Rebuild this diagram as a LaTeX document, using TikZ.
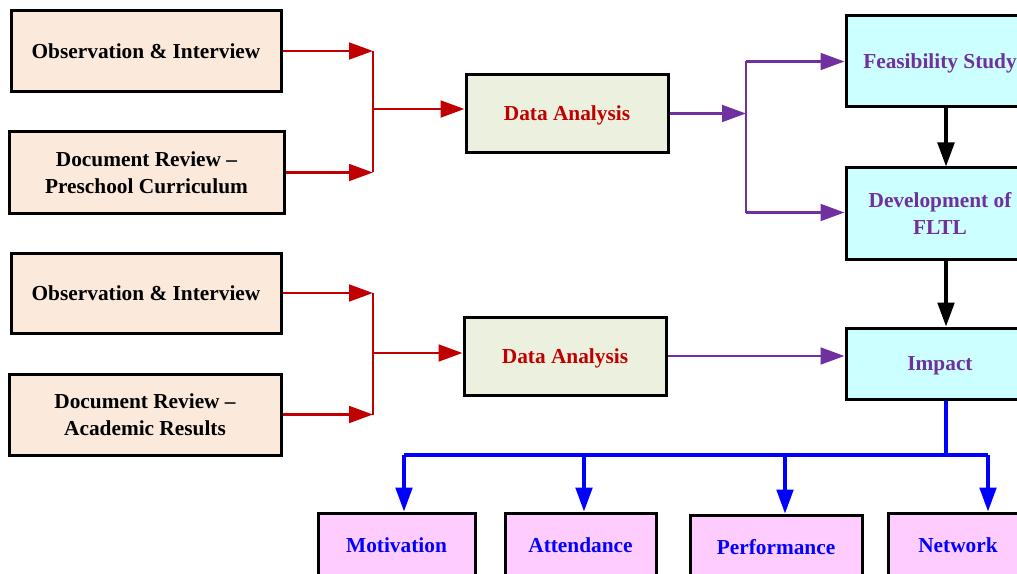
\documentclass[tikz,border=0pt]{standalone}
\usepackage{fontspec}
\setmainfont{Liberation Serif}
\usetikzlibrary{arrows.meta,positioning}
\definecolor{peach}{HTML}{FBE9DB}
\definecolor{sage}{HTML}{EBF1DE}
\definecolor{aqua}{HTML}{CCFFFF}
\definecolor{pinkbox}{HTML}{FFCCFF}
\definecolor{darkred}{HTML}{C00000}
\definecolor{fltpurple}{HTML}{7030A0}
\definecolor{outblue}{HTML}{0000FF}
\tikzset{
  box/.style={draw=black, line width=2.25pt, align=center, inner sep=2pt,
    font=\bfseries\fontsize{16}{20}\selectfont},
  srcbox/.style={box, fill=peach, minimum height=60.75pt},
  anabox/.style={box, fill=sage, text=darkred, minimum width=151.5pt, minimum height=58pt,
    text height=14.5pt, text depth=3.5pt},
  stagebox/.style={box, fill=aqua, text=fltpurple, minimum width=141pt},
  onerow/.style={text height=14.5pt, text depth=3.5pt},
  outbox/.style={box, fill=pinkbox, text=outblue, minimum height=48pt},
  tip/.style={-{Triangle[length=18pt,width=12.5pt]}},
  redln/.style={draw=darkred, line width=2.2pt},
  purpln/.style={draw=fltpurple, line width=2.2pt},
  blackln/.style={draw=black, line width=2.5pt},
  blueln/.style={draw=outblue, line width=2.4pt},
}
\begin{document}
\begin{tikzpicture}[x=0.75pt,y=-0.75pt]
  \useasboundingbox (0,0) rectangle (1017,574);
  \clip (0,0) rectangle (1017,574);
  %% sources, upper group
  \node[srcbox, minimum width=202.5pt] (obsA) at (146,51) {Observation \& Interview};
  \node[srcbox, minimum width=206.25pt] (docA) at (146.5,172.5) {Document Review --\\Preschool Curriculum};
  \node[anabox] (anaA) at (567,113.5) {Data Analysis};
  %% sources, lower group
  \node[srcbox, minimum width=202.5pt, minimum height=60pt] (obsB) at (146,293) {Observation \& Interview};
  \node[srcbox, minimum width=204pt] (docB) at (145,414.5) {Document Review --\\Academic Results};
  \node[anabox, minimum height=58.5pt] (anaB) at (565,356) {Data Analysis};
  %% stages on the right
  \node[stagebox, onerow, minimum height=68.25pt] (feas) at (940,61.5) {Feasibility Study};
  \node[stagebox, minimum height=68.25pt] (devt) at (940,213.5) {Development of\\FLTL};
  \node[stagebox, onerow, minimum height=53.25pt] (impact) at (940,363.5) {Impact};
  %% outcomes
  \node[outbox, minimum width=117.75pt] (motiv) at (396.5,545) {Motivation};
  \node[outbox, minimum width=113.25pt] (attend) at (580.5,545) {Attendance};
  \node[outbox, minimum width=129pt] (perf) at (776,547) {Performance};
  \node[outbox, minimum width=105pt] (netw) at (958,545) {Network};

  % junction points
  \coordinate (jAt) at (373,51);
  \coordinate (jAb) at (373,172.5);
  \coordinate (jAm) at (373,109);
  \coordinate (jBt) at (373,293);
  \coordinate (jBb) at (373,414.5);
  \coordinate (jBm) at (373,353);
  \coordinate (pA) at (746,113.5);
  \coordinate (pAt) at (746,61.5);
  \coordinate (pAb) at (746,212.5);
  \coordinate (bTop) at (946,455);
  \coordinate (bL) at (404,455);
  \coordinate (b2) at (584,455);
  \coordinate (b3) at (785,455);
  \coordinate (bR) at (988,455);

  % red merges
  \draw[redln, tip] (obsA) -- (jAt);
  \draw[redln, tip] (docA) -- (jAb);
  \draw[redln] (jAt) -- (jAb);
  \draw[redln, tip] (jAm) -- (jAm -| anaA.west);
  \draw[redln, tip] (obsB) -- (jBt);
  \draw[redln, tip] (docB) -- (jBb);
  \draw[redln] (jBt) -- (jBb);
  \draw[redln, tip] (jBm) -- (jBm -| anaB.west);
  % purple
  \draw[purpln, tip] (anaA) -- (pA);
  \draw[purpln] (pAt) -- (pAb);
  \draw[purpln, tip] (pAt) -- (feas);
  \draw[purpln, tip] (pAb) -- (pAb -| devt.west);
  \draw[purpln, tip] (anaB.east) -- (anaB.east -| impact.west);
  % black
  \draw[blackln, tip] ([xshift=4.5pt]feas.south) -- ([xshift=4.5pt]devt.north);
  \draw[blackln, tip] ([xshift=4.5pt]devt.south) -- ([xshift=4.5pt]impact.north);
  % blue fan-out
  \draw[blueln] ([xshift=4.5pt]impact.south) -- (bTop);
  \draw[blueln] (bL) -- (bR);
  \draw[blueln, tip] (bL) -- (bL |- motiv.north);
  \draw[blueln, tip] (b2) -- (b2 |- attend.north);
  \draw[blueln, tip] (b3) -- (b3 |- perf.north);
  \draw[blueln, tip] (bR) -- (bR |- netw.north);
\end{tikzpicture}
\end{document}
